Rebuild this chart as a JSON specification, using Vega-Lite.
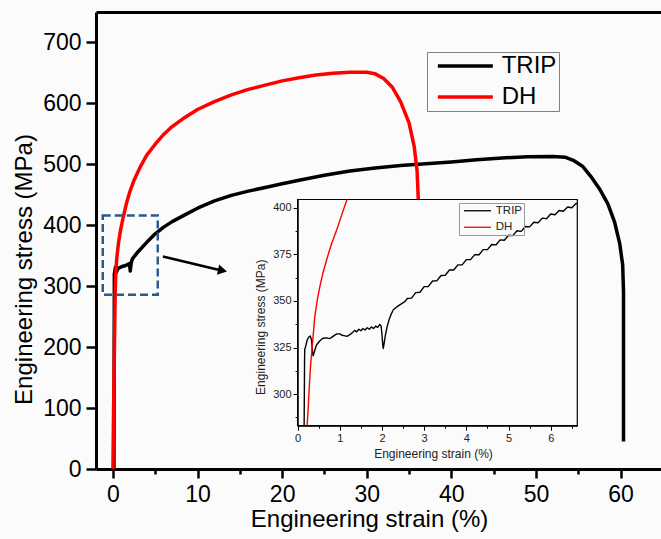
{
  "$schema": "https://vega.github.io/schema/vega-lite/v6.json",
  "width": 565,
  "height": 457,
  "autosize": {"type": "none"},
  "padding": {"left": 96, "top": 12, "right": 0, "bottom": 70},
  "background": "#fbfbfb",
  "config": {"view": {"stroke": null}, "font": "Liberation Sans"},
  "datasets": {
    "main": [
      {"alloy": "TRIP", "strain": 0.12, "stress": 0},
      {"alloy": "TRIP", "strain": 0.15, "stress": 200},
      {"alloy": "TRIP", "strain": 0.17, "stress": 320},
      {"alloy": "TRIP", "strain": 0.3, "stress": 331},
      {"alloy": "TRIP", "strain": 0.37, "stress": 322},
      {"alloy": "TRIP", "strain": 0.6, "stress": 329},
      {"alloy": "TRIP", "strain": 1.0, "stress": 332},
      {"alloy": "TRIP", "strain": 1.5, "stress": 334},
      {"alloy": "TRIP", "strain": 1.95, "stress": 337},
      {"alloy": "TRIP", "strain": 2.05, "stress": 325},
      {"alloy": "TRIP", "strain": 2.15, "stress": 337},
      {"alloy": "TRIP", "strain": 2.3, "stress": 345},
      {"alloy": "TRIP", "strain": 3.0, "stress": 357},
      {"alloy": "TRIP", "strain": 4.0, "stress": 372},
      {"alloy": "TRIP", "strain": 5.0, "stress": 386},
      {"alloy": "TRIP", "strain": 6.0, "stress": 397},
      {"alloy": "TRIP", "strain": 7.0, "stress": 406},
      {"alloy": "TRIP", "strain": 8.5, "stress": 417},
      {"alloy": "TRIP", "strain": 10, "stress": 428},
      {"alloy": "TRIP", "strain": 12, "stress": 440},
      {"alloy": "TRIP", "strain": 14, "stress": 449},
      {"alloy": "TRIP", "strain": 16, "stress": 456},
      {"alloy": "TRIP", "strain": 18, "stress": 462},
      {"alloy": "TRIP", "strain": 20, "stress": 468},
      {"alloy": "TRIP", "strain": 22, "stress": 474},
      {"alloy": "TRIP", "strain": 25, "stress": 482},
      {"alloy": "TRIP", "strain": 28, "stress": 489},
      {"alloy": "TRIP", "strain": 31, "stress": 494},
      {"alloy": "TRIP", "strain": 34, "stress": 498},
      {"alloy": "TRIP", "strain": 37, "stress": 501},
      {"alloy": "TRIP", "strain": 40, "stress": 504},
      {"alloy": "TRIP", "strain": 43, "stress": 507.5},
      {"alloy": "TRIP", "strain": 46, "stress": 510.5},
      {"alloy": "TRIP", "strain": 49, "stress": 512.5},
      {"alloy": "TRIP", "strain": 52, "stress": 513},
      {"alloy": "TRIP", "strain": 53.5, "stress": 511.5},
      {"alloy": "TRIP", "strain": 54.5, "stress": 506},
      {"alloy": "TRIP", "strain": 55.5, "stress": 497},
      {"alloy": "TRIP", "strain": 56.5, "stress": 480},
      {"alloy": "TRIP", "strain": 57.5, "stress": 460},
      {"alloy": "TRIP", "strain": 58.5, "stress": 435},
      {"alloy": "TRIP", "strain": 59.3, "stress": 405},
      {"alloy": "TRIP", "strain": 59.9, "stress": 370},
      {"alloy": "TRIP", "strain": 60.25, "stress": 335},
      {"alloy": "TRIP", "strain": 60.35, "stress": 290},
      {"alloy": "TRIP", "strain": 60.35, "stress": 45},
      {"alloy": "DH", "strain": 0.0, "stress": 0},
      {"alloy": "DH", "strain": 0.08, "stress": 100},
      {"alloy": "DH", "strain": 0.18, "stress": 200},
      {"alloy": "DH", "strain": 0.27, "stress": 290},
      {"alloy": "DH", "strain": 0.34, "stress": 322},
      {"alloy": "DH", "strain": 0.45, "stress": 345},
      {"alloy": "DH", "strain": 0.65, "stress": 370},
      {"alloy": "DH", "strain": 0.9, "stress": 392},
      {"alloy": "DH", "strain": 1.2, "stress": 412},
      {"alloy": "DH", "strain": 1.6, "stress": 436},
      {"alloy": "DH", "strain": 2.0, "stress": 455},
      {"alloy": "DH", "strain": 2.5, "stress": 474},
      {"alloy": "DH", "strain": 3.2, "stress": 495},
      {"alloy": "DH", "strain": 4.0, "stress": 515},
      {"alloy": "DH", "strain": 5.0, "stress": 533},
      {"alloy": "DH", "strain": 6.0, "stress": 549},
      {"alloy": "DH", "strain": 7.0, "stress": 562},
      {"alloy": "DH", "strain": 8.5, "stress": 577},
      {"alloy": "DH", "strain": 10, "stress": 590},
      {"alloy": "DH", "strain": 12, "stress": 603},
      {"alloy": "DH", "strain": 14, "stress": 614},
      {"alloy": "DH", "strain": 16, "stress": 623},
      {"alloy": "DH", "strain": 18, "stress": 630},
      {"alloy": "DH", "strain": 20, "stress": 637},
      {"alloy": "DH", "strain": 22, "stress": 642},
      {"alloy": "DH", "strain": 24, "stress": 646.5},
      {"alloy": "DH", "strain": 26, "stress": 649.5},
      {"alloy": "DH", "strain": 28, "stress": 651},
      {"alloy": "DH", "strain": 30, "stress": 651},
      {"alloy": "DH", "strain": 31, "stress": 648.5},
      {"alloy": "DH", "strain": 32, "stress": 641},
      {"alloy": "DH", "strain": 33, "stress": 627},
      {"alloy": "DH", "strain": 34, "stress": 603},
      {"alloy": "DH", "strain": 35, "stress": 568},
      {"alloy": "DH", "strain": 35.6, "stress": 530},
      {"alloy": "DH", "strain": 35.95, "stress": 490},
      {"alloy": "DH", "strain": 36.1, "stress": 440},
      {"alloy": "DH", "strain": 36.15, "stress": 380}
    ],
    "inset": [
      {"alloy": "TRIP", "strain": 0.155, "stress": 283},
      {"alloy": "TRIP", "strain": 0.16, "stress": 300},
      {"alloy": "TRIP", "strain": 0.165, "stress": 318},
      {"alloy": "TRIP", "strain": 0.17, "stress": 324},
      {"alloy": "TRIP", "strain": 0.19, "stress": 325.5},
      {"alloy": "TRIP", "strain": 0.22, "stress": 328.5},
      {"alloy": "TRIP", "strain": 0.26, "stress": 330.5},
      {"alloy": "TRIP", "strain": 0.30, "stress": 331.2},
      {"alloy": "TRIP", "strain": 0.33, "stress": 329},
      {"alloy": "TRIP", "strain": 0.355, "stress": 322},
      {"alloy": "TRIP", "strain": 0.37, "stress": 320.5},
      {"alloy": "TRIP", "strain": 0.40, "stress": 323},
      {"alloy": "TRIP", "strain": 0.45, "stress": 326.5},
      {"alloy": "TRIP", "strain": 0.53, "stress": 328.6},
      {"alloy": "TRIP", "strain": 0.6, "stress": 330},
      {"alloy": "TRIP", "strain": 0.69, "stress": 330.2},
      {"alloy": "TRIP", "strain": 0.75, "stress": 329.8},
      {"alloy": "TRIP", "strain": 0.8, "stress": 330.3},
      {"alloy": "TRIP", "strain": 0.87, "stress": 331.5},
      {"alloy": "TRIP", "strain": 0.93, "stress": 332.3},
      {"alloy": "TRIP", "strain": 1.0, "stress": 332.3},
      {"alloy": "TRIP", "strain": 1.05, "stress": 331.6},
      {"alloy": "TRIP", "strain": 1.1, "stress": 331.4},
      {"alloy": "TRIP", "strain": 1.17, "stress": 331.0},
      {"alloy": "TRIP", "strain": 1.22, "stress": 331.6},
      {"alloy": "TRIP", "strain": 1.3, "stress": 333.0},
      {"alloy": "TRIP", "strain": 1.35, "stress": 334.2},
      {"alloy": "TRIP", "strain": 1.40, "stress": 333.4},
      {"alloy": "TRIP", "strain": 1.45, "stress": 334.8},
      {"alloy": "TRIP", "strain": 1.50, "stress": 334.0},
      {"alloy": "TRIP", "strain": 1.55, "stress": 335.2},
      {"alloy": "TRIP", "strain": 1.60, "stress": 334.4},
      {"alloy": "TRIP", "strain": 1.65, "stress": 335.6},
      {"alloy": "TRIP", "strain": 1.70, "stress": 334.8},
      {"alloy": "TRIP", "strain": 1.75, "stress": 336.0},
      {"alloy": "TRIP", "strain": 1.80, "stress": 335.2},
      {"alloy": "TRIP", "strain": 1.85, "stress": 336.5},
      {"alloy": "TRIP", "strain": 1.90, "stress": 335.8},
      {"alloy": "TRIP", "strain": 1.95, "stress": 337.4},
      {"alloy": "TRIP", "strain": 1.98, "stress": 336.5},
      {"alloy": "TRIP", "strain": 2.00, "stress": 332},
      {"alloy": "TRIP", "strain": 2.02, "stress": 326},
      {"alloy": "TRIP", "strain": 2.03, "stress": 324.5},
      {"alloy": "TRIP", "strain": 2.05, "stress": 327},
      {"alloy": "TRIP", "strain": 2.08, "stress": 331.5},
      {"alloy": "TRIP", "strain": 2.12, "stress": 336},
      {"alloy": "TRIP", "strain": 2.17, "stress": 340},
      {"alloy": "TRIP", "strain": 2.22, "stress": 343},
      {"alloy": "TRIP", "strain": 2.27, "stress": 345.3},
      {"alloy": "TRIP", "strain": 2.35, "stress": 346.8},
      {"alloy": "TRIP", "strain": 2.45, "stress": 348.3},
      {"alloy": "TRIP", "strain": 2.55, "stress": 349.8},
      {"alloy": "TRIP", "strain": 2.6, "stress": 351.3},
      {"alloy": "TRIP", "strain": 2.7, "stress": 351.5},
      {"alloy": "TRIP", "strain": 2.8, "stress": 354.5},
      {"alloy": "TRIP", "strain": 2.9, "stress": 354.7},
      {"alloy": "TRIP", "strain": 3.0, "stress": 357.7},
      {"alloy": "TRIP", "strain": 3.1, "stress": 357.8},
      {"alloy": "TRIP", "strain": 3.2, "stress": 360.7},
      {"alloy": "TRIP", "strain": 3.3, "stress": 360.8},
      {"alloy": "TRIP", "strain": 3.4, "stress": 363.7},
      {"alloy": "TRIP", "strain": 3.5, "stress": 363.8},
      {"alloy": "TRIP", "strain": 3.6, "stress": 366.6},
      {"alloy": "TRIP", "strain": 3.7, "stress": 366.6},
      {"alloy": "TRIP", "strain": 3.8, "stress": 369.4},
      {"alloy": "TRIP", "strain": 3.9, "stress": 369.4},
      {"alloy": "TRIP", "strain": 4.0, "stress": 372.2},
      {"alloy": "TRIP", "strain": 4.1, "stress": 372.2},
      {"alloy": "TRIP", "strain": 4.2, "stress": 374.9},
      {"alloy": "TRIP", "strain": 4.3, "stress": 374.8},
      {"alloy": "TRIP", "strain": 4.4, "stress": 377.6},
      {"alloy": "TRIP", "strain": 4.5, "stress": 377.6},
      {"alloy": "TRIP", "strain": 4.6, "stress": 380.3},
      {"alloy": "TRIP", "strain": 4.7, "stress": 380.1},
      {"alloy": "TRIP", "strain": 4.8, "stress": 382.8},
      {"alloy": "TRIP", "strain": 4.9, "stress": 382.6},
      {"alloy": "TRIP", "strain": 5.0, "stress": 385.3},
      {"alloy": "TRIP", "strain": 5.1, "stress": 385.1},
      {"alloy": "TRIP", "strain": 5.2, "stress": 387.7},
      {"alloy": "TRIP", "strain": 5.3, "stress": 387.4},
      {"alloy": "TRIP", "strain": 5.4, "stress": 390.0},
      {"alloy": "TRIP", "strain": 5.5, "stress": 389.8},
      {"alloy": "TRIP", "strain": 5.6, "stress": 392.3},
      {"alloy": "TRIP", "strain": 5.7, "stress": 392.0},
      {"alloy": "TRIP", "strain": 5.8, "stress": 394.5},
      {"alloy": "TRIP", "strain": 5.9, "stress": 394.2},
      {"alloy": "TRIP", "strain": 6.0, "stress": 396.7},
      {"alloy": "TRIP", "strain": 6.1, "stress": 396.3},
      {"alloy": "TRIP", "strain": 6.2, "stress": 398.6},
      {"alloy": "TRIP", "strain": 6.3, "stress": 398.2},
      {"alloy": "TRIP", "strain": 6.4, "stress": 400.5},
      {"alloy": "TRIP", "strain": 6.5, "stress": 400.1},
      {"alloy": "TRIP", "strain": 6.6, "stress": 402.4},
      {"alloy": "TRIP", "strain": 6.63, "stress": 402.2},
      {"alloy": "DH", "strain": 0.225, "stress": 283},
      {"alloy": "DH", "strain": 0.25, "stress": 292},
      {"alloy": "DH", "strain": 0.27, "stress": 301},
      {"alloy": "DH", "strain": 0.30, "stress": 313},
      {"alloy": "DH", "strain": 0.34, "stress": 324},
      {"alloy": "DH", "strain": 0.41, "stress": 342},
      {"alloy": "DH", "strain": 0.47, "stress": 351},
      {"alloy": "DH", "strain": 0.53, "stress": 358},
      {"alloy": "DH", "strain": 0.6, "stress": 365},
      {"alloy": "DH", "strain": 0.69, "stress": 372.3},
      {"alloy": "DH", "strain": 0.8, "stress": 380.5},
      {"alloy": "DH", "strain": 0.93, "stress": 388.4},
      {"alloy": "DH", "strain": 1.05, "stress": 396.5},
      {"alloy": "DH", "strain": 1.17, "stress": 404.5}
    ],
    "box": [{"x0": -1.2, "x1": 5.3, "y0": 286, "y1": 416}],
    "arrow": [{"x0": 5.91, "y0": 348.6, "x1": 12.95, "y1": 325.5}],
    "insetframe": [{"s0": 0, "s1": 6.63, "t0": 283, "t1": 404.5}]
  },
  "layer": [
    {
      "data": {"values": [{"v": 0}]},
      "mark": {"type": "point", "opacity": 0},
      "encoding": {
        "x": {"field": "v", "type": "quantitative",
          "scale": {"domain": [-2, 64.78], "nice": false, "zero": false},
          "axis": {"orient": "top", "title": null, "labels": false, "ticks": false, "grid": false, "domainColor": "black", "domainWidth": 3}}
      }
    },
    {
      "layer": [
        {
          "data": {"name": "main"},
          "mark": {"type": "line", "strokeWidth": 3.5, "strokeJoin": "round"},
          "encoding": {
            "x": {"field": "strain", "type": "quantitative",
              "scale": {"domain": [-2, 64.78], "nice": false, "zero": false},
              "axis": {"orient": "bottom", "title": "Engineering strain (%)", "values": [0, 5, 10, 15, 20, 25, 30, 35, 40, 45, 50, 55, 60],
                "labelExpr": "datum.value % 10 === 0 ? datum.label : ''",
                "tickSize": {"condition": {"test": "datum.value % 10 !== 0", "value": 5}, "value": 9},
                "tickWidth": 2.5, "tickColor": "black", "domainColor": "black", "domainWidth": 3, "grid": false,
                "labelFont": "Liberation Sans", "labelFontSize": 23, "labelColor": "black", "labelPadding": 5,
                "labelFlush": false, "labelOverlap": false, "labelBound": false,
                "titleFont": "Liberation Sans", "titleFontSize": 24, "titleFontWeight": "normal", "titleColor": "black",
                "titleX": 273, "titleY": 57.5, "titleBaseline": "alphabetic"}},
            "y": {"field": "stress", "type": "quantitative",
              "scale": {"domain": [0, 750], "nice": false, "zero": false},
              "axis": {"orient": "left", "title": "Engineering stress (MPa)", "values": [0, 50, 100, 150, 200, 250, 300, 350, 400, 450, 500, 550, 600, 650, 700],
                "labelExpr": "datum.value % 100 === 0 ? datum.label : ''",
                "tickSize": {"condition": {"test": "datum.value % 100 !== 0", "value": 5}, "value": 10},
                "tickWidth": 2.5, "tickColor": "black", "domainColor": "black", "domainWidth": 3, "grid": false,
                "labelFont": "Liberation Sans", "labelFontSize": 23, "labelColor": "black", "labelPadding": 5,
                "labelFlush": false, "labelOverlap": false, "labelBound": false,
                "titleFont": "Liberation Sans", "titleFontSize": 24, "titleFontWeight": "normal", "titleColor": "black",
                "titleX": -65, "titleY": 257, "titleBaseline": "alphabetic"}},
            "color": {"field": "alloy", "type": "nominal",
              "scale": {"domain": ["TRIP", "DH"], "range": ["#000000", "#ff0000"]},
              "legend": {"orient": "none", "legendX": 331, "legendY": 40, "title": null,
                "symbolType": "M-3,0H3", "symbolSize": 336, "symbolStrokeWidth": 3.5,
                "symbolOffset": 24.35, "labelOffset": 24.35,
                "labelExpr": "datum.label + ' '",
                "labelFont": "Liberation Sans", "labelFontSize": 24, "labelColor": "black",
                "strokeColor": "#808080", "padding": 2, "rowPadding": 7}},
            "order": {"value": null}
          }
        },
        {
          "data": {"name": "box"},
          "mark": {"type": "rect", "fill": null, "stroke": "#2c5a8c", "strokeWidth": 2.5, "strokeDash": [8, 4]},
          "encoding": {
            "x": {"field": "x0", "type": "quantitative", "scale": {"domain": [-2, 64.78], "nice": false, "zero": false}},
            "x2": {"field": "x1"},
            "y": {"field": "y0", "type": "quantitative", "scale": {"domain": [0, 750], "nice": false, "zero": false}},
            "y2": {"field": "y1"}
          }
        },
        {
          "data": {"name": "arrow"},
          "mark": {"type": "rule", "strokeWidth": 2.5, "color": "black"},
          "encoding": {
            "x": {"field": "x0", "type": "quantitative", "scale": {"domain": [-2, 64.78], "nice": false, "zero": false}},
            "x2": {"field": "x1"},
            "y": {"field": "y0", "type": "quantitative", "scale": {"domain": [0, 750], "nice": false, "zero": false}},
            "y2": {"field": "y1"}
          }
        },
        {
          "data": {"name": "arrow"},
          "mark": {"type": "point", "shape": "triangle-right", "filled": true, "color": "black", "opacity": 1, "size": 110, "angle": 12},
          "encoding": {
            "x": {"field": "x1", "type": "quantitative", "scale": {"domain": [-2, 64.78], "nice": false, "zero": false}},
            "y": {"field": "y1", "type": "quantitative", "scale": {"domain": [0, 750], "nice": false, "zero": false}}
          }
        }
      ]
    },
    {
      "layer": [
        {
          "data": {"name": "insetframe"},
          "mark": {"type": "rect", "fill": "#fbfbfb", "stroke": "black", "strokeWidth": 1.2},
          "encoding": {
            "x": {"field": "s0", "type": "quantitative", "scale": {"domain": [0, 6.63], "range": [201.6, 481.3], "nice": false, "zero": false}},
            "x2": {"field": "s1"},
            "y": {"field": "t0", "type": "quantitative", "scale": {"domain": [283, 404.5], "range": [413.7, 187.5], "nice": false, "zero": false}},
            "y2": {"field": "t1"}
          }
        },
        {
          "data": {"name": "inset"},
          "mark": {"type": "line", "strokeWidth": 1.4, "strokeJoin": "round"},
          "encoding": {
            "x": {"field": "strain", "type": "quantitative",
              "scale": {"domain": [0, 6.63], "range": [201.6, 481.3], "nice": false, "zero": false},
              "axis": {"orient": "bottom", "title": "Engineering strain (%)", "offset": -43.3, "zindex": 1,
                "values": [0, 0.5, 1, 1.5, 2, 2.5, 3, 3.5, 4, 4.5, 5, 5.5, 6, 6.5],
                "labelExpr": "datum.value % 1 === 0 ? format(datum.value, 'd') : ''",
                "tickSize": {"condition": {"test": "datum.value % 1 !== 0", "value": 2.5}, "value": 4.5},
                "tickWidth": 1, "tickColor": "black", "domainColor": "black", "domainWidth": 1.2, "grid": false,
                "labelFont": "Liberation Sans", "labelFontSize": 11, "labelColor": "#222222", "labelPadding": 2,
                "labelFlush": false, "labelOverlap": false, "labelBound": false,
                "titleFont": "Liberation Sans", "titleFontSize": 12, "titleFontWeight": "normal", "titleColor": "#222222",
                "titleX": 337, "titleY": 27.5, "titleBaseline": "middle"}},
            "y": {"field": "stress", "type": "quantitative",
              "scale": {"domain": [283, 404.5], "range": [413.7, 187.5], "nice": false, "zero": false},
              "axis": {"orient": "left", "title": "Engineering stress (MPa)", "offset": -201.6, "zindex": 1,
                "values": [287.5, 300, 312.5, 325, 337.5, 350, 362.5, 375, 387.5, 400],
                "labelExpr": "datum.value % 25 === 0 ? format(datum.value, 'd') : ''",
                "tickSize": {"condition": {"test": "datum.value % 25 !== 0", "value": 2.5}, "value": 4.5},
                "tickWidth": 1, "tickColor": "black", "domainColor": "black", "domainWidth": 1.2, "grid": false,
                "labelFont": "Liberation Sans", "labelFontSize": 11, "labelColor": "#222222", "labelPadding": 2,
                "labelFlush": false, "labelOverlap": false, "labelBound": false,
                "titleFont": "Liberation Sans", "titleFontSize": 12, "titleFontWeight": "normal", "titleColor": "#222222",
                "titleX": -37, "titleY": 314.7, "titleBaseline": "middle"}},
            "color": {"field": "alloy", "type": "nominal",
              "scale": {"domain": ["TRIP", "DH"], "range": ["#000000", "#ff0000"]},
              "legend": {"orient": "none", "legendX": 363, "legendY": 191, "title": null,
                "symbolType": "M-3,0H3", "symbolSize": 81, "symbolStrokeWidth": 1.3,
                "symbolOffset": 10.7, "labelOffset": 12.6,
                "labelFont": "Liberation Sans", "labelFontSize": 11.5, "labelColor": "#222222",
                "strokeColor": "#999999", "padding": 2, "rowPadding": 3.5}},
            "order": {"value": null}
          }
        }
      ]
    }
  ],
  "resolve": {"scale": {"x": "independent", "y": "independent", "color": "independent"}}
}
